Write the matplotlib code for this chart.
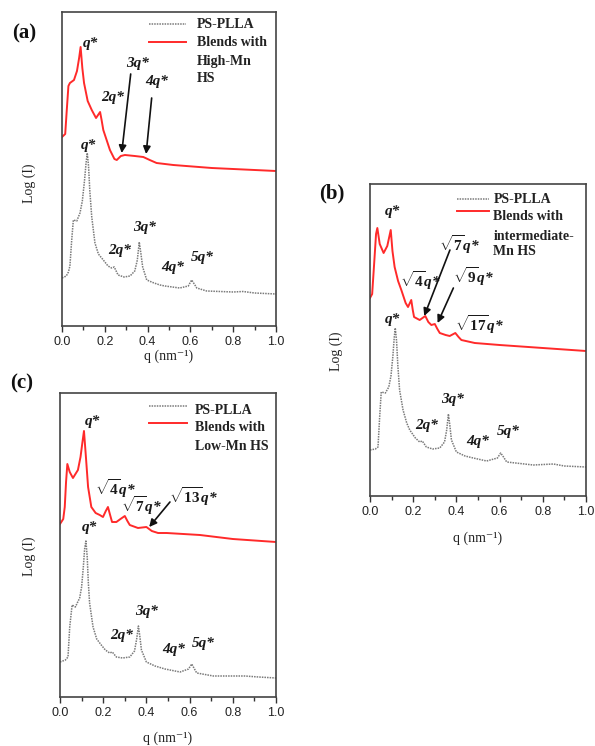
import matplotlib
matplotlib.use("Agg")
import matplotlib.pyplot as plt
from matplotlib.ticker import MultipleLocator

plt.rcParams['mathtext.fontset'] = 'custom'
plt.rcParams['mathtext.rm'] = 'Liberation Serif:bold'
plt.rcParams['mathtext.it'] = 'Liberation Serif:bold:italic'
plt.rcParams['mathtext.bf'] = 'Liberation Serif:bold'

SERIF = ['Liberation Serif', 'DejaVu Serif']

# ---- panel (a): PS-PLLA vs blends with high-Mn HS ----
a_grey_q = [0, 0.02, 0.03, 0.037, 0.045, 0.053, 0.069, 0.084, 0.095, 0.105, 0.112, 0.118,
            0.124, 0.13, 0.139, 0.154, 0.17, 0.193, 0.215, 0.232, 0.244, 0.262, 0.29, 0.318,
            0.34, 0.352, 0.361, 0.369, 0.377, 0.396, 0.43, 0.458, 0.481, 0.55, 0.59, 0.606,
            0.618, 0.63, 0.676, 0.8, 0.846, 0.9, 1.0]
a_grey_i = [48, 50, 54, 60, 85, 106, 105, 113, 125, 145, 162, 173,
            160, 135, 109, 83, 72, 66, 60, 58, 59, 51, 49, 50,
            55, 66, 84, 72, 59, 46, 43, 41, 40, 38, 40, 46,
            42, 38, 35, 34, 34.5, 33, 32]
a_red_q = [0, 0.015, 0.022, 0.03, 0.037, 0.056, 0.07, 0.08, 0.087, 0.095, 0.103, 0.12,
           0.139, 0.159, 0.178, 0.185, 0.193, 0.224, 0.245, 0.256, 0.275, 0.294, 0.34, 0.38,
           0.41, 0.442, 0.52, 0.7, 1.0]
a_red_i = [189, 192, 215, 240, 243, 246, 255, 268, 279, 258, 243, 225,
           216, 208, 214, 206, 196, 176, 167, 166, 170, 171, 170, 169,
           166, 163, 161, 158, 155]

# ---- panel (b): intermediate-Mn HS ----
b_grey_q = [0, 0.025, 0.037, 0.045, 0.052, 0.071, 0.087, 0.097, 0.106, 0.112, 0.117, 0.123,
            0.129, 0.137, 0.153, 0.17, 0.184, 0.21, 0.23, 0.242, 0.261, 0.29, 0.323, 0.345,
            0.355, 0.363, 0.37, 0.377, 0.4, 0.44, 0.478, 0.54, 0.59, 0.605, 0.618, 0.633,
            0.756, 0.849, 0.9, 1.0]
b_grey_i = [46, 47, 49, 80, 104, 103, 109, 120, 140, 158, 168, 155,
            130, 106, 86, 73, 66, 58, 54, 55, 49, 47, 48, 54,
            66, 82, 70, 56, 44, 40, 38, 35, 38, 43, 39, 34,
            31, 32, 30, 29]
b_red_q = [0, 0.01, 0.02, 0.028, 0.034, 0.045, 0.063, 0.08, 0.096, 0.104, 0.114, 0.13,
           0.145, 0.165, 0.176, 0.191, 0.198, 0.204, 0.23, 0.256, 0.27, 0.284, 0.3, 0.312,
           0.323, 0.35, 0.369, 0.395, 0.41, 0.423, 0.485, 0.6, 0.8, 1.0]
b_red_i = [198, 202, 235, 262, 268, 252, 243, 250, 266, 245, 229, 215,
           206, 193, 189, 196, 186, 179, 176, 180, 174, 171, 172, 167,
           163, 161, 160, 163, 159, 156, 153, 151, 148, 145]

# ---- panel (c): low-Mn HS ----
c_grey_q = [0, 0.025, 0.037, 0.045, 0.056, 0.071, 0.091, 0.1, 0.108, 0.114, 0.12, 0.126,
            0.131, 0.137, 0.153, 0.17, 0.191, 0.21, 0.23, 0.242, 0.261, 0.29, 0.323, 0.345,
            0.355, 0.363, 0.37, 0.377, 0.4, 0.44, 0.486, 0.556, 0.595, 0.61, 0.62, 0.633,
            0.71, 0.856, 0.92, 1.0]
c_grey_i = [35, 37, 40, 70, 92, 90, 99, 110, 130, 148, 156, 140,
            115, 94, 70, 58, 52, 47, 44, 45, 40, 39, 40, 46,
            58, 71, 60, 47, 35, 31, 28, 25, 28, 33, 29, 24,
            21, 21, 20, 19]
c_red_q = [0, 0.015, 0.022, 0.028, 0.034, 0.045, 0.06, 0.083, 0.095, 0.104, 0.111, 0.12,
           0.13, 0.145, 0.165, 0.184, 0.199, 0.212, 0.222, 0.232, 0.241, 0.261, 0.28, 0.3,
           0.312, 0.323, 0.361, 0.4, 0.425, 0.454, 0.494, 0.648, 0.8, 1.0]
c_red_i = [173, 178, 190, 215, 233, 225, 219, 227, 240, 255, 266, 240,
           210, 190, 184, 182, 180, 186, 190, 182, 175, 175, 178, 181,
           176, 172, 169, 170, 166, 164, 164, 162, 158, 155]

# peak labels: (text, q, level)
a_labels = [('q*', 0.135, 283), ('2q*', 0.237, 228), ('3q*', 0.355, 262), ('4q*', 0.444, 244),
            ('q*', 0.124, 181), ('2q*', 0.271, 76), ('3q*', 0.388, 99), ('4q*', 0.516, 59),
            ('5q*', 0.657, 69)]
b_labels = [('q*', 0.106, 285), (r'$\sqrt{4}q$*', 0.235, 215), (r'$\sqrt{7}q$*', 0.417, 251),
            (r'$\sqrt{9}q$*', 0.479, 219), (r'$\sqrt{17}q$*', 0.509, 171),
            ('q*', 0.104, 176), ('2q*', 0.262, 70), ('3q*', 0.38, 96), ('4q*', 0.50, 54),
            ('5q*', 0.639, 65)]
c_labels = [('q*', 0.15, 275), (r'$\sqrt{4}q$*', 0.259, 208), (r'$\sqrt{7}q$*', 0.378, 191),
            (r'$\sqrt{13}q$*', 0.617, 200),
            ('q*', 0.134, 170), ('2q*', 0.285, 62), ('3q*', 0.401, 85), ('4q*', 0.525, 47),
            ('5q*', 0.664, 54)]

# arrows: (tail q, tail level, head q, head level)
a_arrows = [(0.321, 252, 0.279, 173), (0.419, 228, 0.393, 172)]
b_arrows = [(0.370, 246, 0.251, 180), (0.386, 208, 0.313, 173)]
c_arrows = [(0.509, 195, 0.413, 170)]

a_legend = ['Blends with', 'High-Mn', 'HS']
b_legend = ['Blends with', 'intermediate-', 'Mn HS']
c_legend = ['Blends with', 'Low-Mn HS']

fig = plt.figure(figsize=(5.95, 7.46), dpi=100)


def draw_panel(rect, ytop, gq, gi, rq, ri, labels, arrows, leg_lines, leg_pos, ylab_y, xpad):
    ax = fig.add_axes(rect)
    ax.plot(gq, gi, color='#7a7a7a', lw=1.1, linestyle=(0, (1, 0.7)))
    ax.plot(rq, ri, color='#ff2a2a', lw=1.4)
    ax.set_xlim(0, 1.0)
    ax.set_ylim(0, ytop)
    ax.set_yticks([])
    ax.xaxis.set_major_locator(MultipleLocator(0.2))
    ax.xaxis.set_minor_locator(MultipleLocator(0.1))
    ax.tick_params(axis='x', which='major', direction='out', length=4, width=1, colors='#333333',
                   labelsize=9, pad=3)
    ax.tick_params(axis='x', which='minor', direction='out', length=3, width=1, colors='#333333')
    for lab in ax.get_xticklabels():
        lab.set_fontfamily(['Liberation Sans', 'DejaVu Sans'])
        lab.set_color('#222222')
    for s in ax.spines.values():
        s.set_color('#444444')
        s.set_linewidth(1.2)
    ax.set_xlabel('q (nm\u207b\u00b9)', family=SERIF, fontsize=10, labelpad=xpad, color='#222222')
    ax.set_ylabel('Log (I)', family=SERIF, fontsize=10, color='#222222')
    ax.yaxis.set_label_coords(ylab_y[0], ylab_y[1])

    for txt, q, lev in labels:
        ax.text(q, lev, txt, ha='center', va='center', family=SERIF, fontsize=11,
                fontweight='bold', fontstyle='italic', color='#1a1a1a')
    for tq, tl, hq, hl in arrows:
        ax.annotate('', xy=(hq, hl), xytext=(tq, tl),
                    arrowprops=dict(arrowstyle='-|>', color='#111111', lw=1.2,
                                    mutation_scale=11, shrinkA=0, shrinkB=0))

    # legend drawn by hand so the red sample sits on the first text line
    x0, x1, xt, yd, yr, ytexts = leg_pos
    ax.plot([x0, x1], [yd, yd], transform=ax.transAxes, color='#7a7a7a', lw=1.1,
            linestyle=(0, (1, 0.7)))
    ax.plot([x0, x1], [yr, yr], transform=ax.transAxes, color='#ff2a2a', lw=1.4)
    texts = ['PS-PLLA'] + leg_lines
    for t, y in zip(texts, ytexts):
        ax.text(xt, y, t, transform=ax.transAxes, ha='left', va='center', family=SERIF,
                fontsize=10, fontweight='bold', color='#222222')
    return ax


draw_panel([62 / 595, 1 - 326 / 746, 214 / 595, 314 / 746], 314,
           a_grey_q, a_grey_i, a_red_q, a_red_i, a_labels, a_arrows, a_legend,
           (0.407, 0.579, 0.631, 0.962, 0.904, [0.959, 0.904, 0.842, 0.789]),
           (-0.12, 0.455), 1)
draw_panel([370 / 595, 1 - 496 / 746, 216 / 595, 312 / 746], 312,
           b_grey_q, b_grey_i, b_red_q, b_red_i, b_labels, b_arrows, b_legend,
           (0.401, 0.552, 0.571, 0.951, 0.913, [0.951, 0.895, 0.833, 0.783]),
           (-0.125, 0.465), 10)
draw_panel([60 / 595, 1 - 697 / 746, 216 / 595, 304 / 746], 304,
           c_grey_q, c_grey_i, c_red_q, c_red_i, c_labels, c_arrows, c_legend,
           (0.412, 0.586, 0.625, 0.957, 0.902, [0.941, 0.886, 0.823]),
           (-0.11, 0.464), 9)

for t, x, y in [('(a)', 24, 33), ('(b)', 332, 193), ('(c)', 22, 383)]:
    fig.text(x / 595, 1 - y / 746, t, ha='center', va='center', family=SERIF,
             fontsize=15, fontweight='bold', color='#111111')

fig.savefig('out.png', dpi=100, facecolor='white')
